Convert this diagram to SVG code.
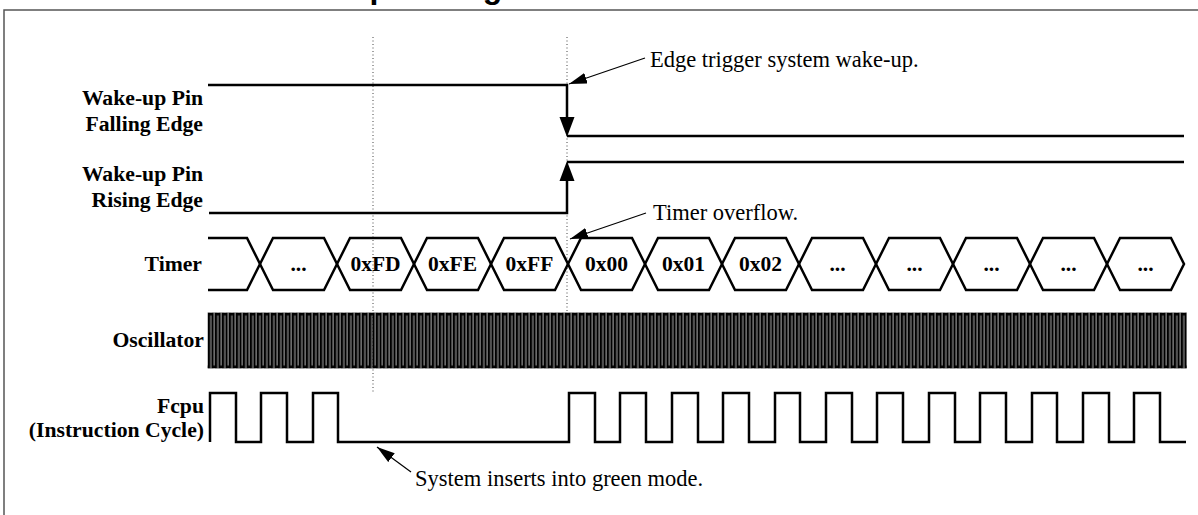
<svg xmlns="http://www.w3.org/2000/svg" width="1198" height="515" viewBox="0 0 1198 515">
<style>
.lbl{font-family:"Liberation Serif","Times New Roman",serif;font-weight:bold;font-size:21.7px;fill:#000;text-anchor:end}
.hx{font-family:"Liberation Serif","Times New Roman",serif;font-weight:bold;font-size:21.5px;fill:#000;text-anchor:middle}
.note{font-family:"Liberation Serif","Times New Roman",serif;font-size:22.5px;fill:#000}
.wave{fill:none;stroke:#000;stroke-width:2.5;stroke-linejoin:miter}
.dot{stroke:#444;stroke-width:1;stroke-dasharray:1 2.5;fill:none}
.ann{stroke:#000;stroke-width:1.2;fill:none;marker-end:url(#ah)}
</style>
<defs>
<marker id="ah" viewBox="0 0 18 11" markerUnits="userSpaceOnUse" markerWidth="18" markerHeight="11" refX="18" refY="5.5" orient="auto">
<path d="M0,0 L18,5.5 L0,11 z" fill="#000"/>
</marker>
<pattern id="osc" patternUnits="userSpaceOnUse" x="207.6" y="312.6" width="7" height="55.8">
<rect x="0" y="0" width="2.8" height="55.8" fill="#000"/>
<rect x="3.5" y="0" width="2.8" height="55.8" fill="#000"/>
<rect x="1.4" y="0" width="3.5" height="2.8" fill="#000"/>
<rect x="4.9" y="53" width="2.1" height="2.8" fill="#000"/>
<rect x="0" y="53" width="1.4" height="2.8" fill="#000"/>
</pattern>
</defs>
<rect width="1198" height="515" fill="#fff"/>
<text x="257" y="-2.5" font-family="Liberation Sans, Arial, sans-serif" font-weight="bold" font-size="32" fill="#000">Wake-up Timing</text>
<path d="M4,515 V10 H1198" fill="none" stroke="#555" stroke-width="1.5"/>
<g id="guides">
<line class="dot" x1="373" y1="37" x2="373" y2="392"/>
<line class="dot" x1="567" y1="37" x2="567" y2="312"/>
</g>
<g id="wakeup-falling">
<text class="lbl" x="203" y="105">Wake-up Pin</text>
<text class="lbl" x="203" y="131">Falling Edge</text>
<path class="wave" d="M208,85 H567 V124 M567,136 H1184"/>
<polygon points="559.5,117 574.5,117 567,137" fill="#000"/>
</g>
<g id="wakeup-rising">
<text class="lbl" x="203" y="181">Wake-up Pin</text>
<text class="lbl" x="203" y="207">Rising Edge</text>
<path class="wave" d="M209,213 H567 V175 M567,162 H1184"/>
<polygon points="559.5,181 574.5,181 567,161" fill="#000"/>
</g>
<g id="timer">
<text class="lbl" x="202" y="271">Timer</text>
<path class="wave" d="M208,238 H247 L260,264 L247,290 H208"/>
<polygon class="wave" points="260,264 273,238 324,238 337,264 324,290 273,290"/>
<polygon class="wave" points="337,264 350,238 401,238 414,264 401,290 350,290"/>
<polygon class="wave" points="414,264 427,238 478,238 491,264 478,290 427,290"/>
<polygon class="wave" points="491,264 504,238 555,238 568,264 555,290 504,290"/>
<polygon class="wave" points="568,264 581,238 632,238 645,264 632,290 581,290"/>
<polygon class="wave" points="645,264 658,238 709,238 722,264 709,290 658,290"/>
<polygon class="wave" points="722,264 735,238 786,238 799,264 786,290 735,290"/>
<polygon class="wave" points="799,264 812,238 863,238 876,264 863,290 812,290"/>
<polygon class="wave" points="876,264 889,238 940,238 953,264 940,290 889,290"/>
<polygon class="wave" points="953,264 966,238 1017,238 1030,264 1017,290 966,290"/>
<polygon class="wave" points="1030,264 1043,238 1094,238 1107,264 1094,290 1043,290"/>
<polygon class="wave" points="1107,264 1120,238 1171,238 1184,264 1171,290 1120,290"/>
<text class="hx" x="298.5" y="271">...</text>
<text class="hx" x="375.5" y="271">0xFD</text>
<text class="hx" x="452.5" y="271">0xFE</text>
<text class="hx" x="529.5" y="271">0xFF</text>
<text class="hx" x="606.5" y="271">0x00</text>
<text class="hx" x="683.5" y="271">0x01</text>
<text class="hx" x="760.5" y="271">0x02</text>
<text class="hx" x="837.5" y="271">...</text>
<text class="hx" x="914.5" y="271">...</text>
<text class="hx" x="991.5" y="271">...</text>
<text class="hx" x="1068.5" y="271">...</text>
<text class="hx" x="1145.5" y="271">...</text>
</g>
<g id="oscillator">
<text class="lbl" x="204" y="347">Oscillator</text>
<rect x="207.6" y="312.6" width="979.2" height="55.8" fill="url(#osc)"/>
</g>
<g id="fcpu">
<text class="lbl" x="204" y="413">Fcpu</text>
<text class="lbl" x="204" y="437">(Instruction Cycle)</text>
<path class="wave" d="M210,442 V393 H236 V442 H261 V393 H287 V442 H313 V393 H338 V442 H569 V393 H595 V442 H620 V393 H646 V442 H672 V393 H698 V442 H723 V393 H749 V442 H775 V393 H800 V442 H826 V393 H852 V442 H877 V393 H903 V442 H929 V393 H955 V442 H980 V393 H1006 V442 H1032 V393 H1057 V442 H1083 V393 H1109 V442 H1134 V393 H1160 V442 H1186"/>
</g>
<g id="connectors">
<line class="ann" x1="645" y1="58" x2="569" y2="84"/>
<line class="ann" x1="646" y1="213" x2="570" y2="239"/>
<line class="ann" x1="411" y1="472" x2="377" y2="447"/>
</g>
<g id="notes">
<text class="note" x="650" y="67">Edge trigger system wake-up.</text>
<text class="note" x="653" y="220">Timer overflow.</text>
<text class="note" x="415" y="486">System inserts into green mode.</text>
</g>
</svg>
